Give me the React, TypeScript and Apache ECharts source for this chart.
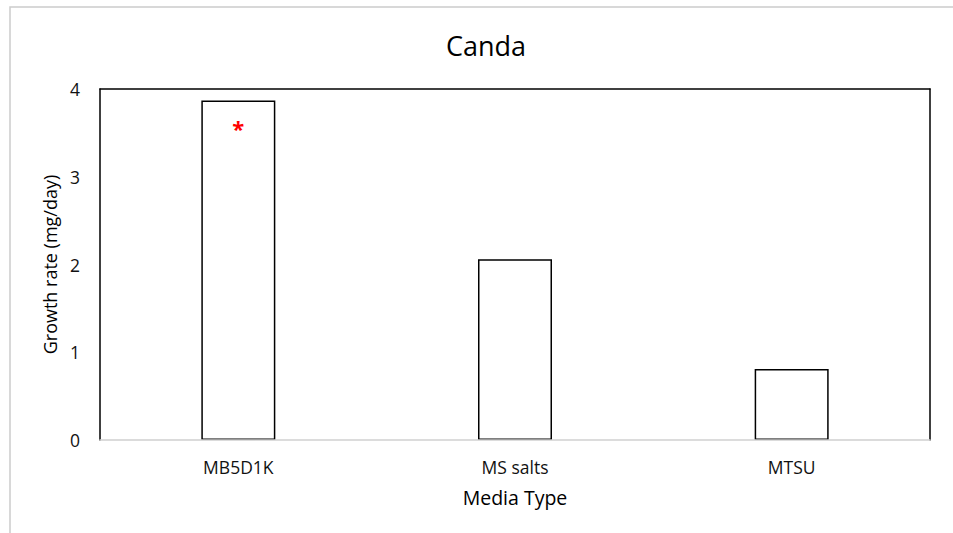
import React, { useEffect, useRef } from "react";
import * as echarts from "echarts";

const categories = ["MB5D1K", "MS salts", "MTSU"];
const growthRates = [3.87, 2.06, 0.81];
const markers = ["*", "", ""];
const yTicks = { min: 0, max: 4, interval: 1 };
const titleText = "Canda";
const xName = "Media Type";
const yName = "Growth rate (mg/day)";

const FONT = "Open Sans";

export default function App() {
  const ref = useRef<HTMLDivElement>(null);
  useEffect(() => {
    if (!ref.current) return;
    const chart = echarts.init(ref.current, undefined, { renderer: "svg" });
    chart.setOption({
      animation: false,
      backgroundColor: "#ffffff",
      textStyle: { fontFamily: FONT },
      title: {
        text: titleText,
        left: 481,
        top: 27,
        textAlign: "center",
        textStyle: { fontFamily: FONT, fontSize: 27, fontWeight: "normal", color: "#000" },
      },
      graphic: [
        {
          type: "rect",
          shape: { x: 10, y: 7, width: 960, height: 540 },
          style: { fill: "none", stroke: "#cccccc", lineWidth: 1.5 },
          silent: true,
          z: -1,
        },
      ],
      grid: { left: 100, right: 23, top: 89, bottom: 93 },
      xAxis: [
        {
          type: "category",
          data: categories,
          position: "bottom",
          axisLine: { show: true, onZero: false, lineStyle: { color: "#d0d0d0", width: 1.5 } },
          axisTick: { show: false },
          axisLabel: { fontFamily: FONT, fontSize: 17.5, color: "#111", margin: 18 },
          name: xName,
          nameLocation: "middle",
          nameGap: 47,
          nameTextStyle: { fontFamily: FONT, fontSize: 19.5, color: "#000" },
          zlevel: 0,
          z: 20,
        },
        {
          type: "category",
          data: categories,
          position: "top",
          axisLine: { show: true, onZero: false, lineStyle: { color: "#000", width: 1.5 } },
          axisTick: { show: false },
          axisLabel: { show: false },
        },
      ],
      yAxis: [
        {
          type: "value",
          position: "left",
          min: yTicks.min,
          max: yTicks.max,
          interval: yTicks.interval,
          axisLine: { show: true, onZero: false, lineStyle: { color: "#000", width: 1.5 } },
          axisTick: { show: false },
          splitLine: { show: false },
          axisLabel: { fontFamily: FONT, fontSize: 17.5, color: "#111", margin: 20 },
          name: yName,
          nameLocation: "middle",
          nameGap: 38,
          nameRotate: 90,
          nameTextStyle: { fontFamily: FONT, fontSize: 18, color: "#000" },
        },
        {
          type: "value",
          position: "right",
          min: yTicks.min,
          max: yTicks.max,
          interval: yTicks.interval,
          axisLine: { show: true, onZero: false, lineStyle: { color: "#000", width: 1.5 } },
          axisTick: { show: false },
          splitLine: { show: false },
          axisLabel: { show: false },
        },
      ],
      series: [
        {
          type: "bar",
          xAxisIndex: 0,
          yAxisIndex: 0,
          barWidth: 74,
          z: 2,
          data: growthRates.map((v, i) => ({
            value: v,
            label: {
              show: markers[i] !== "",
              formatter: markers[i],
              position: "insideTop",
              distance: 17,
              color: "#ff0000",
              fontSize: 22,
              fontWeight: "bold",
              fontFamily: FONT,
            },
          })),
          itemStyle: { color: "#ffffff", borderColor: "#000", borderWidth: 1.5 },
        },
      ],
    });
    return () => chart.dispose();
  }, []);
  return (
    <div
      ref={ref}
      style={{ position: "fixed", left: 0, top: 0, width: 953, height: 533 }}
    />
  );
}
